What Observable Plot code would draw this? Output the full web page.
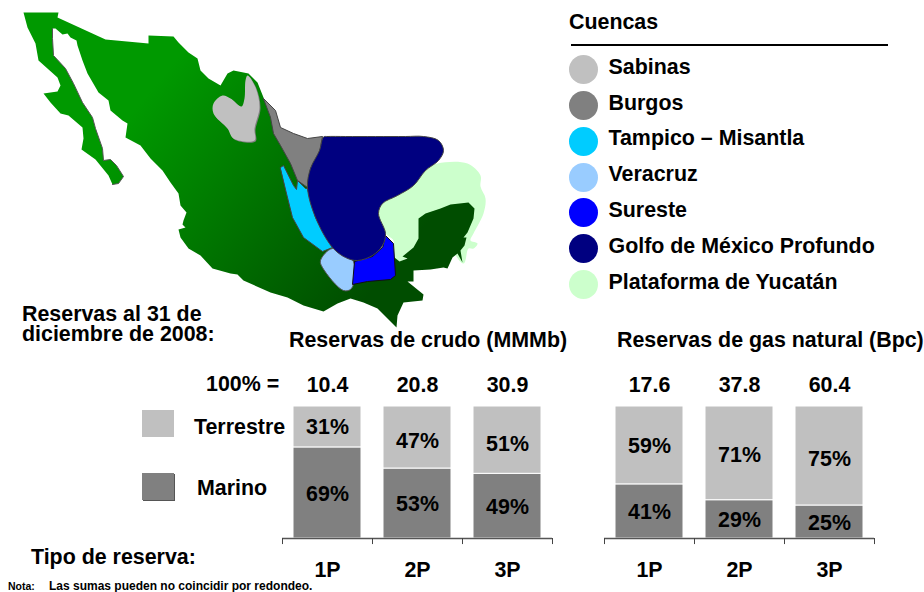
<!DOCTYPE html>
<html lang="es">
<head>
<meta charset="utf-8">
<script src="https://cdn.jsdelivr.net/npm/d3@7"></script>
<script src="https://cdn.jsdelivr.net/npm/@observablehq/plot@0.6"></script>
<style>
html,body{margin:0;padding:0;background:#fff}
#page{position:relative;width:924px;height:592px;overflow:hidden;font-family:"Liberation Sans",Arial,sans-serif;font-weight:bold;color:#000}
.t{position:absolute;white-space:pre;line-height:1}
.b{position:absolute}
</style>
</head>
<body>
<div id="page"></div>
<script>
// ---- Chart data ----
const reservas = ["1P", "2P", "3P"];
const tipos = ["Marino", "Terrestre"];
const crudoMarino = [69, 53, 49];
const crudoTerrestre = [31, 47, 51];
const crudoTotal = ["10.4", "20.8", "30.9"];
const gasMarino = [41, 29, 25];
const gasTerrestre = [59, 71, 75];
const gasTotal = ["17.6", "37.8", "60.4"];
const cuencas = ["Sabinas", "Burgos", "Tampico – Misantla", "Veracruz", "Sureste", "Golfo de México Profundo", "Plataforma de Yucatán"];
const cuencaColors = ["#c0c0c0", "#808080", "#00ccff", "#99ccff", "#0000ff", "#000080", "#ccffcc"];

// ---- Map outlines ----
const mexico = [[23,12],[58,12],[57,17],[105,39],[148,43],[148,35],[173,36],[178,42],[188,52],[197,58],[200,70],[208,78],[220,85],[227,73],[233,70],[248,73],[257,82],[263,97],[275,125],[300,150],[330,200],[350,240],[375,250],[394,257],[399,261],[407,258],[402,256],[413,247],[418,238],[418,218],[425,213],[440,208],[450,204],[468,202],[474,208],[473,218],[467,232],[463,237],[466,237],[464,245],[460,250],[462,262],[457,253],[452,257],[447,268],[443,267],[430,269],[413,270],[413,281],[407,281],[423,294],[422,300],[403,302],[397,315],[396,327],[377,308],[363,302],[350,298],[337,303],[323,311],[303,305],[287,297],[270,292],[243,280],[237,274],[230,273],[212,268],[200,255],[188,248],[180,237],[178,229],[185,227],[182,224],[183,220],[186,212],[180,205],[178,193],[170,182],[162,170],[150,158],[140,145],[125,137],[127,123],[122,120],[110,110],[108,100],[98,92],[87,73],[82,60],[77,45],[76,40],[70,37],[67,33],[62,34],[55,28],[52,28],[52,38],[53,55],[65,68],[73,83],[82,102],[92,117],[95,128],[102,148],[103,160],[110,159],[116,165],[123,176],[118,183],[112,184],[108,175],[95,159],[81,149],[83,138],[82,127],[68,115],[60,113],[50,102],[43,93],[57,91],[60,85],[57,77],[38,60],[35,43],[27,27]];
const bajaGulfCoast = [[52,28],[52,38],[53,55],[65,68],[73,83],[82,102],[92,117],[95,128],[102,148],[103,160],[110,159],[116,165],[123,176],[118,183],[112,184]];
const sabinas = [[247,75],[255,87],[259,107],[254,128],[254,140],[233,138],[227,128],[213,113],[213,103],[222,95],[230,98],[241,106],[244,98],[245,80]];
const burgos = [[263,98],[275,110],[280,127],[293,133],[307,138],[322,136],[319,152],[310,168],[307,187],[297,180],[290,163],[280,145],[273,133],[270,117]];
const tampico = [[280,167],[283,165],[293,185],[296,189],[297,180],[305,188],[307,188],[315,217],[332,247],[322,251],[303,237],[292,217],[286,193]];
const veracruz = [[332,248],[353,261],[351,288],[343,290],[322,267],[320,260]];
const golfo = [[323,136.5],[327,136],[345,136],[375,136],[405,136],[423,136],[438,140],[443,150],[438,160],[425,170],[413,185],[397,195],[382,203],[378,213],[385,233],[382,245],[372,255],[357,260],[345,257],[332,247],[315,217],[307,187],[310,168],[319,150]];
const sureste = [[385,235],[393,243],[395,275],[390,279],[367,281],[352,284],[354,261],[372,256],[382,247]];
const plataforma = [[423,170],[437,163],[467,163],[480,175],[480,186],[485,198],[483,213],[473,233],[470,240],[477,243],[473,248],[468,248],[463,263],[440,240],[394,262],[393,240],[385,233],[378,213],[382,203]];

const page = document.getElementById("page");
const FONT = '"Liberation Sans", Arial, sans-serif';
const SIZE = 21.4;

// ---- Map ----
const gradient = () => {
  const defs = d3.create("svg:defs");
  const g = defs.append("linearGradient").attr("id", "verde")
    .attr("gradientUnits", "userSpaceOnUse")
    .attr("x1", 150).attr("y1", 90).attr("x2", 380).attr("y2", 280);
  g.append("stop").attr("offset", 0).attr("stop-color", "#009900");
  g.append("stop").attr("offset", 1).attr("stop-color", "#004d00");
  return defs.node();
};
const px = p => p[0], py = p => p[1];
const poly = (pts, fill, stroke = "none", curve = "linear-closed") =>
  Plot.line(pts, {x: px, y: py, fill, stroke, strokeWidth: 1, curve});

const map = Plot.plot({
  width: 924, height: 592, margin: 0,
  style: {background: "transparent", position: "absolute", left: 0, top: 0},
  x: {domain: [0, 924], range: [0, 924], axis: null},
  y: {domain: [0, 592], range: [0, 592], axis: null},
  marks: [
    gradient,
    poly(plataforma, "#ccffcc", "none", "catmull-rom-closed"),
    poly(mexico, "url(#verde)"),
    Plot.line(bajaGulfCoast, {x: px, y: py, stroke: "#555", strokeWidth: 1}),
    poly(sabinas.map(([x, y]) => [x + 1, y + 1]), "#808080", "none", "catmull-rom-closed"),
    poly(sabinas, "#c0c0c0", "none", "catmull-rom-closed"),
    poly(burgos, "#808080", "#444"),
    poly(tampico, "#00ccff", "#444"),
    poly(veracruz, "#99ccff", "#555", "catmull-rom-closed"),
    poly(sureste, "#0000ff", "#111"),
    poly(golfo, "#000080", "#444", "catmull-rom-closed")
  ]
});
page.append(map);

// ---- Stacked bars ----
function chart(left, marino, terrestre, totals, labelShift) {
  const rows = [
    ...reservas.map((r, i) => ({reserva: r, tipo: tipos[0], valor: marino[i], mid: marino[i] / 2, shift: 1})),
    ...reservas.map((r, i) => ({reserva: r, tipo: tipos[1], valor: terrestre[i], mid: marino[i] + terrestre[i] / 2, shift: labelShift[i]}))
  ];
  const totalRows = reservas.map((r, i) => ({reserva: r, total: totals[i]}));
  const txt = {fontSize: SIZE, fontWeight: "bold", fontFamily: FONT, fill: "#000"};
  const p = Plot.plot({
    width: 310, height: 222,
    marginLeft: 22, marginRight: 18, marginTop: 36, marginBottom: 54,
    style: {background: "transparent", position: "absolute", left: left + "px", top: "370px", overflow: "visible"},
    x: {domain: reservas, paddingInner: 0.245, paddingOuter: 0.1225, label: null},
    y: {domain: [0, 100], axis: null},
    color: {domain: tipos, range: ["#808080", "#c0c0c0"]},
    marks: [
      Plot.barY(rows, {x: "reserva", y: "valor", z: "tipo", fill: "tipo", stroke: "#fff", strokeWidth: 1, order: null}),
      ...rows.map(r => Plot.text([r], {x: "reserva", y: "mid", text: d => d.valor + "%", dy: r.shift, ...txt})),
      Plot.text(totalRows, {x: "reserva", y: () => 100, text: "total", dy: -21, ...txt}),
      Plot.ruleY([0], {stroke: "#555", strokeWidth: 1.5}),
      Plot.ruleX(reservas, {x: d => d, y1: 0, y2: -4.6, dx: -45, stroke: "#444", strokeWidth: 1}),
      Plot.ruleX(reservas.slice(-1), {x: d => d, y1: 0, y2: -4.6, dx: 45, stroke: "#444", strokeWidth: 1}),
      Plot.axisX({anchor: "bottom", tickSize: 0, tickPadding: 23, fontSize: SIZE, fontWeight: "bold", fontFamily: FONT, label: null, fill: "#000"})
    ]
  });
  page.append(p);
}
chart(260, crudoMarino, crudoTerrestre, crudoTotal, [0, 4, 4]);
chart(582, gasMarino, gasTerrestre, gasTotal, [1, 2, 3]);

// ---- Text and legends (HTML) ----
function label(text, x, base, size = SIZE, extra = "") {
  const d = document.createElement("div");
  d.className = "t";
  d.textContent = text;
  d.style.cssText = extra;
  d.style.left = x + "px";
  d.style.top = (base + 1 - size * 0.8465) + "px";
  d.style.fontSize = size + "px";
  page.append(d);
}
function block(x, y, w, h, color, extra = "") {
  const d = document.createElement("div");
  d.className = "b";
  d.style.cssText = `left:${x}px;top:${y}px;width:${w}px;height:${h}px;background:${color};${extra}`;
  page.append(d);
}
label("Cuencas", 569, 29);
block(571, 44, 317, 2, "#000");
const legendCenter = [69, 105, 141, 177, 212, 248, 284];
const legendBase = [74, 110, 145, 181, 217, 253, 289];
cuencas.forEach((c, i) => {
  block(569, legendCenter[i] - 14.5, 29, 29, cuencaColors[i], "border-radius:50%;");
  label(c, 608.5, legendBase[i]);
});
label("Reservas al 31 de\ndiciembre de 2008:", 22, 322, SIZE, "line-height:20px;margin-top:-1px;");
label("Reservas de crudo (MMMb)", 289, 347);
label("Reservas de gas natural (Bpc)", 617, 347);
label("100% =", 206, 391);
block(142, 410, 32, 27, "#c0c0c0");
label("Terrestre", 194, 434);
block(142, 473, 32, 27, "#808080", "box-shadow:1px 1px 0 #555;");
label("Marino", 197, 495);
label("Tipo de reserva:", 31, 564);
label("Nota:", 8, 589, 10.5);
label("Las sumas pueden no coincidir por redondeo.", 49, 589, 12);
</script>
</body>
</html>
